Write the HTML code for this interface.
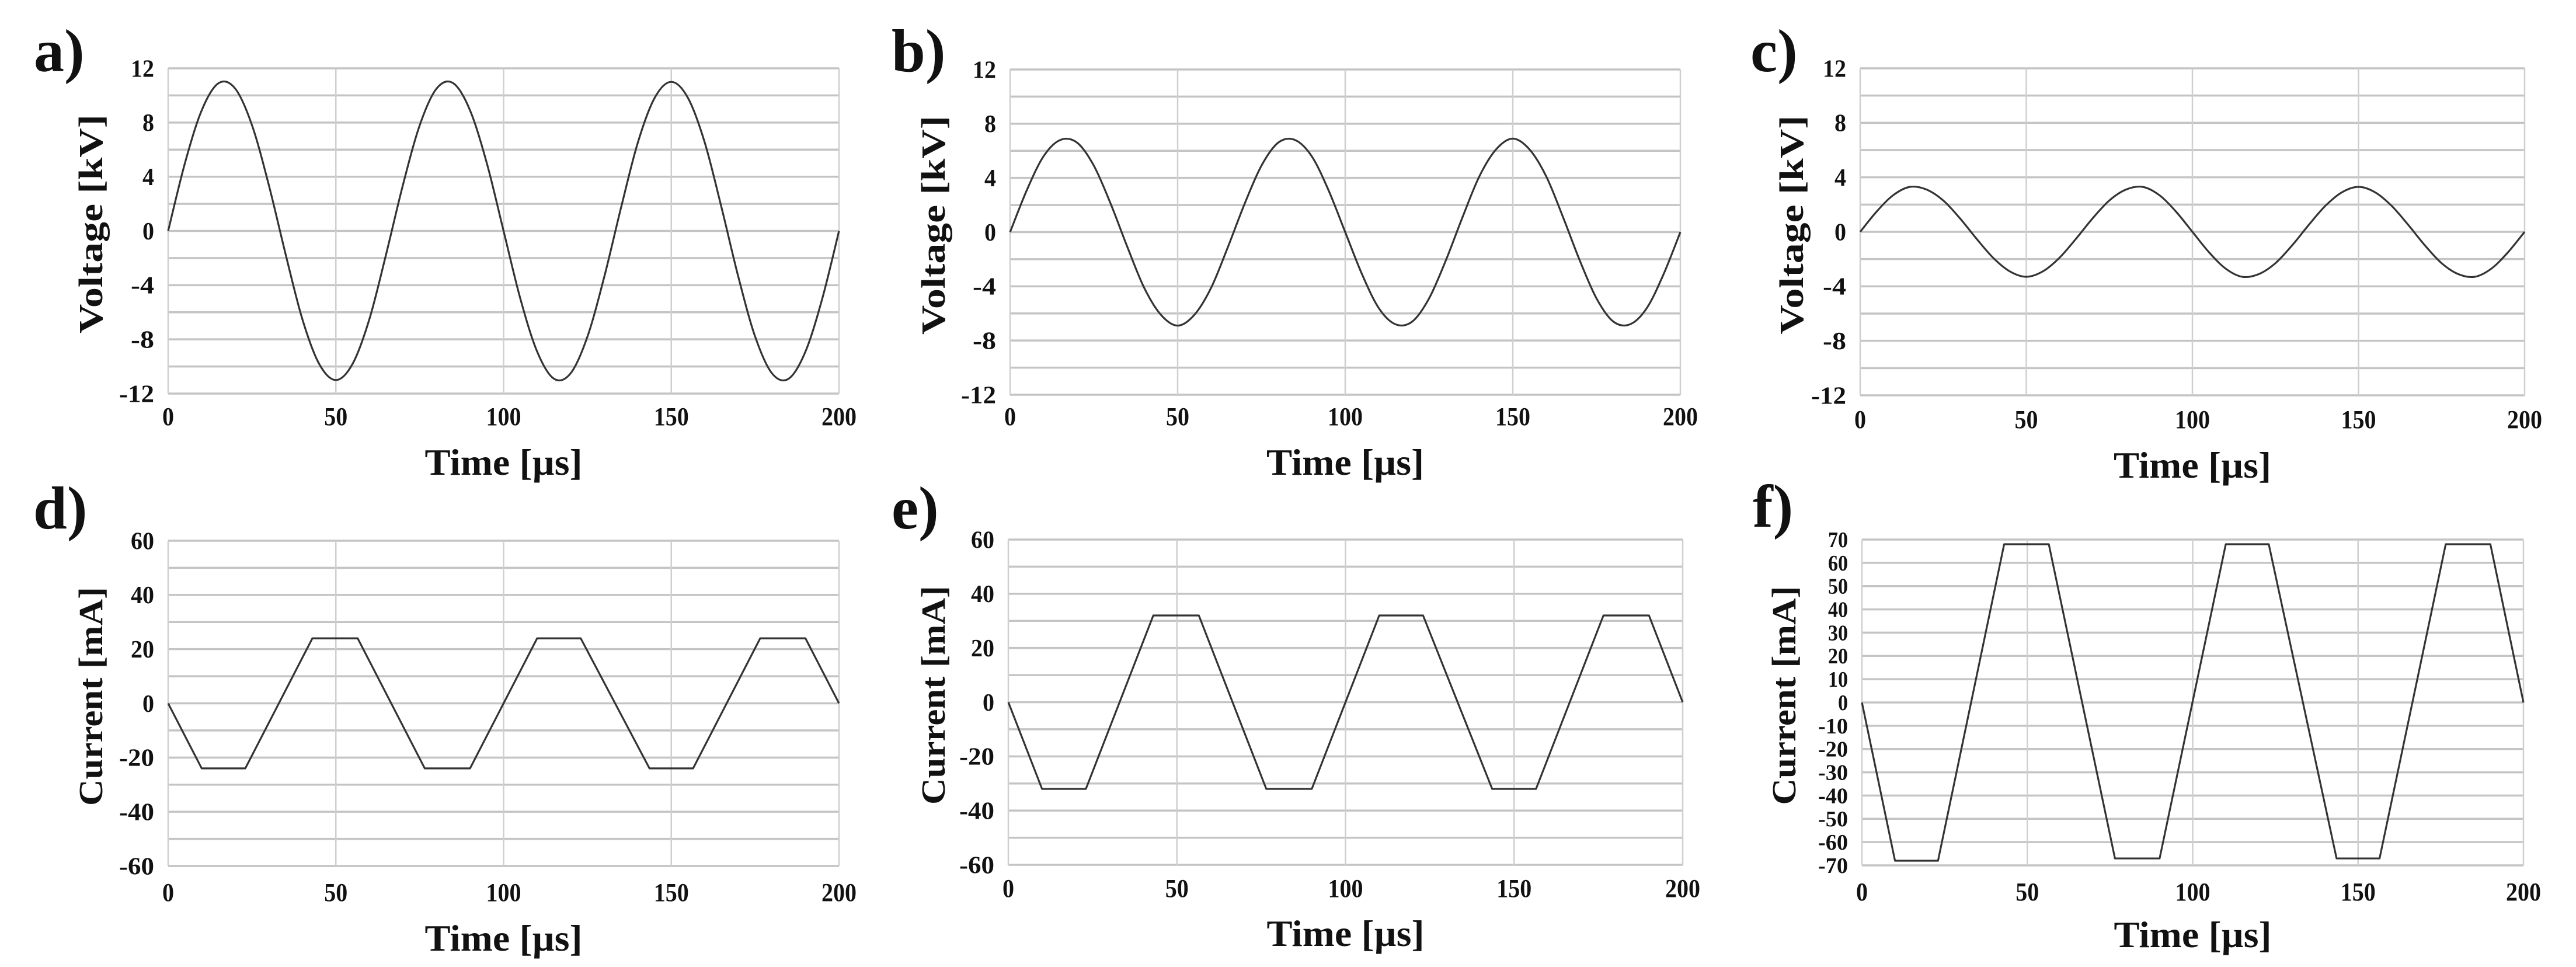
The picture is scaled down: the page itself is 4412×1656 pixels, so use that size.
<!DOCTYPE html>
<html><head><meta charset="utf-8"><style>
html,body{margin:0;padding:0;background:#fff;}
svg{display:block;}
text{font-family:"Liberation Serif",serif;font-weight:bold;fill:#111;}
</style></head><body>
<svg id="fig" width="4412" height="1656" viewBox="0 0 4412 1656" xmlns="http://www.w3.org/2000/svg"></svg>
<script>
// ---- data ----
const timeSamples = [0,5,10,15,20,25,30,35,40,45,50,55,60,65,70,75,80,85,90,95,100,105,110,115,120,125,130,135,140,145,150,155,160,165,170,175,180,185,190,195,200];
const voltageA = [0,5.0,8.9,10.9,10.5,7.8,3.4,-1.7,-6.5,-9.8,-11,-9.8,-6.5,-1.7,3.4,7.8,10.5,10.9,8.9,5.0,0,-5.0,-8.9,-10.9,-10.5,-7.8,-3.4,1.7,6.5,9.8,11,9.8,6.5,1.7,-3.4,-7.8,-10.5,-10.9,-8.9,-5.0,0];
const voltageB = [0,3.1,5.6,6.8,6.6,4.9,2.1,-1.1,-4.1,-6.1,-6.9,-6.1,-4.1,-1.1,2.1,4.9,6.6,6.8,5.6,3.1,0,-3.1,-5.6,-6.8,-6.6,-4.9,-2.1,1.1,4.1,6.1,6.9,6.1,4.1,1.1,-2.1,-4.9,-6.6,-6.8,-5.6,-3.1,0];
const voltageC = [0,1.5,2.7,3.3,3.1,2.3,1.0,-0.5,-1.9,-2.9,-3.3,-2.9,-1.9,-0.5,1.0,2.3,3.1,3.3,2.7,1.5,0,-1.5,-2.7,-3.3,-3.1,-2.3,-1.0,0.5,1.9,2.9,3.3,2.9,1.9,0.5,-1.0,-2.3,-3.1,-3.3,-2.7,-1.5,0];
const currentTimes = [0,10,23,43,56.5,76.5,90,110,123,143.5,156.5,176.5,190,200];
const currentD = [0,-24,-24,24,24,-24,-24,24,24,-24,-24,24,24,0];
const currentE = [0,-32,-32,32,32,-32,-32,32,32,-32,-32,32,32,0];
const currentF = [0,-68,-68,68,68,-67,-67,68,68,-67,-67,68,68,0];
const xTicks = [0,50,100,150,200];
const vTicks = [12,8,4,0,-4,-8,-12];
const iTicksDE = [60,40,20,0,-20,-40,-60];
const iTicksF = [70,60,50,40,30,20,10,0,-10,-20,-30,-40,-50,-60,-70];

// ---- layout ----
const panels = [
 {k:'a',x0:288,x1:1437,y0:117,y1:674,min:-12,max:12,grid:2,ticks:vTicks,ts:timeSamples,vs:voltageA,smooth:true,yl:'Voltage  [kV]',lx:58,ly:122,ylx:175,tby:728,tly:813,fs:42,cw:20},
 {k:'b',x0:1730,x1:2878,y0:119,y1:676,min:-12,max:12,grid:2,ticks:vTicks,ts:timeSamples,vs:voltageB,smooth:true,yl:'Voltage  [kV]',lx:1527,ly:122,ylx:1618,tby:728,tly:813,fs:42,cw:20},
 {k:'c',x0:3186,x1:4324,y0:117,y1:677,min:-12,max:12,grid:2,ticks:vTicks,ts:timeSamples,vs:voltageC,smooth:true,yl:'Voltage  [kV]',lx:2998,ly:122,ylx:3088,tby:733,tly:818,fs:42,cw:20},
 {k:'d',x0:288,x1:1437,y0:926,y1:1483,min:-60,max:60,grid:10,ticks:iTicksDE,ts:currentTimes,vs:currentD,smooth:false,yl:'Current [mA]',lx:57,ly:905,ylx:175,tby:1543,tly:1628,fs:42,cw:20},
 {k:'e',x0:1727,x1:2882,y0:924,y1:1481,min:-60,max:60,grid:10,ticks:iTicksDE,ts:currentTimes,vs:currentE,smooth:false,yl:'Current [mA]',lx:1527,ly:905,ylx:1618,tby:1536,tly:1620,fs:42,cw:20},
 {k:'f',x0:3189,x1:4322,y0:924,y1:1482,min:-70,max:70,grid:10,ticks:iTicksF,ts:currentTimes,vs:currentF,smooth:false,yl:'Current [mA]',lx:3002,ly:902,ylx:3075,tby:1542,tly:1622,fs:38,cw:17}
];
const NS='http://www.w3.org/2000/svg';
const svg=document.getElementById('fig');
function mk(tag,attrs,parent){const e=document.createElementNS(NS,tag);for(const a in attrs)e.setAttribute(a,attrs[a]);(parent||svg).appendChild(e);return e;}

panels.forEach(p=>{
  const g=mk('g',{});
  
  
  const xs=t=>p.x0+(t-0)/(200-0)*(p.x1-p.x0);
  const ys=v=>p.y1-(v-p.min)/(p.max-p.min)*(p.y1-p.y0);
  for(let v=p.min;v<=p.max+1e-9;v+=p.grid){
    const l=mk('line',{x1:p.x0,x2:p.x1,y1:ys(v),y2:ys(v),stroke:'#c4c4c4','stroke-width':3.5},g);
    
    
  }
  xTicks.forEach(t=>{
    const l=mk('line',{x1:xs(t),x2:xs(t),y1:p.y0,y2:p.y1,stroke:'#cfcfcf','stroke-width':2.5},g);
    
    
    const s=String(t);
    const tx=mk('text',{x:xs(t),y:p.tby,'text-anchor':'middle','font-size':44,textLength:s.length*20,lengthAdjust:'spacingAndGlyphs'},g);
    tx.textContent=s;
    
    
  });
  p.ticks.forEach(v=>{
    const s=String(v);
    const tx=mk('text',{x:p.x0-24,y:ys(v)+p.fs*0.34,'text-anchor':'end','font-size':p.fs,textLength:s.length*p.cw,lengthAdjust:'spacingAndGlyphs'},g);
    tx.textContent=s;
    
    
  });
  const pts=p.ts.map((t,i)=>[xs(t),ys(p.vs[i])]);
  let d='M'+pts[0][0]+','+pts[0][1];
  if(p.smooth){
    for(let i=0;i<pts.length-1;i++){
      const p0=pts[Math.max(i-1,0)],p1=pts[i],p2=pts[i+1],p3=pts[Math.min(i+2,pts.length-1)];
      const c1=[p1[0]+(p2[0]-p0[0])/6,p1[1]+(p2[1]-p0[1])/6];
      const c2=[p2[0]-(p3[0]-p1[0])/6,p2[1]-(p3[1]-p1[1])/6];
      d+=' C'+c1[0]+','+c1[1]+' '+c2[0]+','+c2[1]+' '+p2[0]+','+p2[1];
    }
  } else {
    for(let i=1;i<pts.length;i++) d+=' L'+pts[i][0]+','+pts[i][1];
  }
  const path=mk('path',{d:d,fill:'none',stroke:'#333','stroke-width':3.2,'stroke-linejoin':'round'},g);
  
  
  const lt=mk('text',{x:p.lx,y:p.ly,'font-size':104},g);
  lt.textContent=p.k+')';
  
  
  const xt=mk('text',{x:(p.x0+p.x1)/2,y:p.tly,'text-anchor':'middle','font-size':64,textLength:270,lengthAdjust:'spacingAndGlyphs'},g);
  xt.textContent='Time [µs]';
  
  
  const cy=(p.y0+p.y1)/2-12;
  const yt=mk('text',{x:p.ylx,y:cy,'text-anchor':'middle','font-size':58,transform:'rotate(-90 '+p.ylx+' '+cy+')',textLength:375,lengthAdjust:'spacingAndGlyphs'},g);
  yt.textContent=p.yl;
  
  
});
</script>
</body></html>
